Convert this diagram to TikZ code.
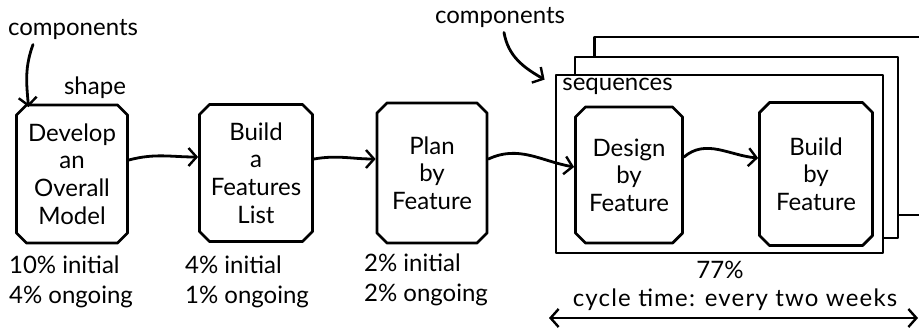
\documentclass[tikz,border=0pt]{standalone}
\usepackage{fontspec}
\setmainfont{Lato}
\usetikzlibrary{positioning,calc,shapes.misc,arrows.meta}

\tikzset{
	stage/.style={draw, chamfered rectangle, chamfered rectangle xsep=2.5pt, chamfered rectangle ysep=2.5pt,
		line width=1.4pt, line join=round, align=center, inner sep=0pt, font=\fontsize{12}{13.8}\selectfont},
	frame/.style={draw, fill=white, rectangle, line width=1.4pt, line join=round, inner sep=0pt},
	flow/.style={-{Straight Barb[length=4pt,width=9pt,line width=1.2pt]}, line width=1.4pt, line cap=round},
	note/.style={font=\fontsize{12}{15}\selectfont, inner sep=0pt},
}

\begin{document}
\begin{tikzpicture}[x=0.5pt, y=-0.5pt]
			\useasboundingbox (0,0) rectangle (919,333);

			% the five process stages
			\node [stage, minimum width=55.5pt, minimum height=69pt] (dev) at (72,174) {Develop\\an\\Overall\\Model};
			\node [stage, minimum width=56.5pt, minimum height=68.5pt] (feat) at (256,173) {Build\\a\\Features\\List};
			\node [stage, minimum width=55pt, minimum height=70pt] (plan) at (432,173) {Plan\\by\\Feature};

			% stacked iterations, back to front
			\node [frame, minimum width=163pt, minimum height=89pt] (seqback) at (757.5,126) {};
			\node [frame, minimum width=161.5pt, minimum height=90.5pt] (seqmid) at (736.5,147.5) {};
			\node [frame, minimum width=163.5pt, minimum height=89pt] (seqfront) at (719.5,164) {};
			\node [note, anchor=north west] (seqlabel) at (562,78) {sequences};

			\node [stage, fill=white, minimum width=53.5pt, minimum height=68pt] (design) at (629,175) {Design\\by\\Feature};
			\node [stage, fill=white, minimum width=56.5pt, minimum height=71.5pt] (build) at (816,174) {Build\\by\\Feature};

			% effort per stage
			\node [note, align=left] (devpct) at (71,282) {10\% initial\\4\% ongoing};
			\node [note, align=left] (featpct) at (247,282) {4\% initial\\1\% ongoing};
			\node [note, align=left] (planpct) at (426,280) {2\% initial\\2\% ongoing};
			\node [note] (seqpct) at (720,270) {77\%};

			% annotations
			\node [note] (comp1) at (73,30) {components};
			\node [note] (shape) at (95,88) {shape};
			\node [note] (comp2) at (500,18) {components};
			\node [note] (cycle) at (735,300) {\addfontfeature{LetterSpace=5}cycle time: every two weeks};
			\coordinate (cycL) at (549,318);
			\coordinate (cycR) at (918,318);

			% flow between stages
			\draw [flow] ([yshift=7pt]dev.east) to[out=15,in=180] ([yshift=8pt]feat.west);
			\draw [flow] ([yshift=7pt]feat.east) to[out=10,in=180] ([yshift=7pt]plan.west);
			\draw [flow] ([yshift=7pt]plan.east) to[out=25,in=170] ([yshift=4pt]design.west);
			\draw [flow] ([yshift=9pt]design.east) to[out=40,in=175] ([yshift=8pt]build.west);

			% pointers from the annotations
			\draw [flow] ([xshift=-20pt,yshift=-2pt]comp1.south) to[out=250,in=95] ([xshift=4pt,yshift=1pt]dev.north west);
			\draw [flow] ([xshift=2pt,yshift=-2pt]comp2.south) to[out=280,in=150] ([xshift=-5pt,yshift=-3pt]seqfront.north west);
			\draw [{Straight Barb[length=4pt,width=9pt,line width=1.2pt]}-{Straight Barb[length=4pt,width=9pt,line width=1.2pt]}, line width=1.4pt] (cycL) -- (cycR);
		\end{tikzpicture}
\end{document}
